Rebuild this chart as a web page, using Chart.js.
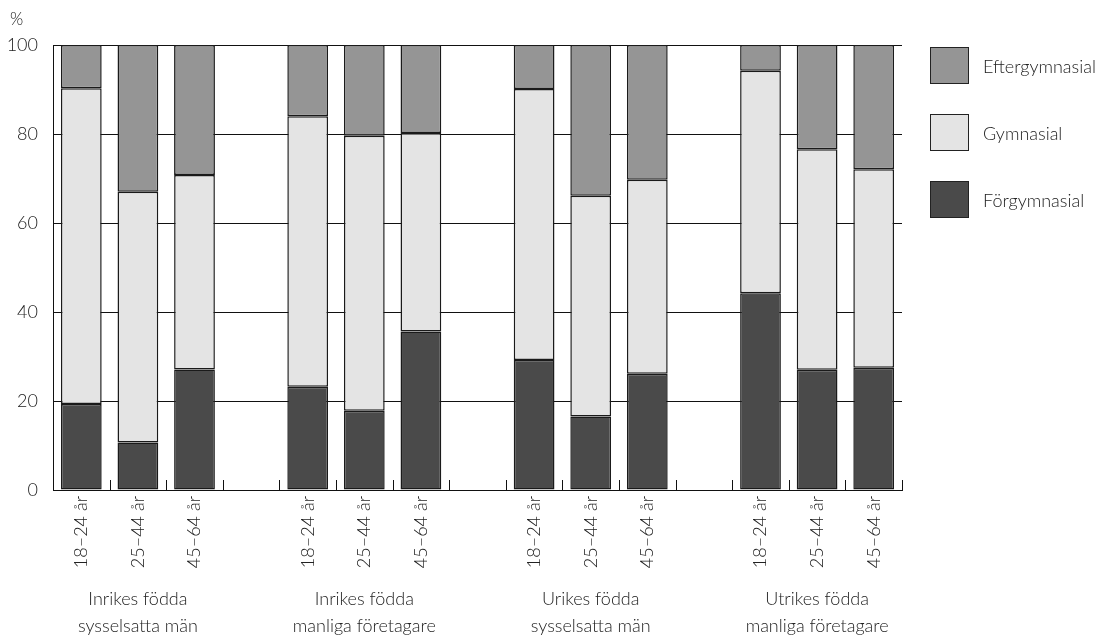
<!DOCTYPE html>
<html lang="sv">
<head>
<meta charset="utf-8">
<title>Utbildningsnivå</title>
<script src="https://cdn.jsdelivr.net/npm/chart.js@4.4.1/dist/chart.umd.min.js"></script>
<style>
  body { margin: 0; background: #fff; }
  #wrap { position: relative; width: 1103px; height: 635px; }
  #legend { position: absolute; left: 930px; top: 47px; font-family: Lato, "Open Sans", sans-serif; font-weight: 300; font-size: 18px; color: #222; }
  .item { display: flex; align-items: center; height: 37px; margin-bottom: 30px; }
  .box { width: 37px; height: 35px; border: 1.5px solid #222; margin-right: 14px; }
</style>
</head>
<body>
<div id="wrap">
  <canvas id="chart" width="1103" height="635"></canvas>
  <div id="legend"></div>
</div>
<script>
// Categories (empty strings are the gaps between groups)
const ageLabels = [
  "18–24 år", "25–44 år", "45–64 år", "",
  "18–24 år", "25–44 år", "45–64 år", "",
  "18–24 år", "25–44 år", "45–64 år", "",
  "18–24 år", "25–44 år", "45–64 år",
];

const groupLabels = [
  ["Inrikes födda", "sysselsatta män"],
  ["Inrikes födda", "manliga företagare"],
  ["Urikes födda", "sysselsatta män"],
  ["Utrikes födda", "manliga företagare"],
];

// Series values, percent
const forgymnasial = [19.3, 10.7, 27.1, null, 23.2, 17.8, 35.6, null, 29.2, 16.5, 26.1, null, 44.2, 27.0, 27.5];
const gymnasial = [71.0, 56.3, 43.7, null, 60.8, 61.8, 44.6, null, 60.9, 49.6, 43.6, null, 50.0, 49.6, 44.6];
const eftergymnasial = [9.7, 33.0, 29.2, null, 16.0, 20.4, 19.8, null, 9.9, 33.9, 30.3, null, 5.8, 23.4, 27.9];

const yTicks = [0, 20, 40, 60, 80, 100];

const FONT = "Lato, 'Open Sans', sans-serif";
const TEXT = "#222";

// Group labels under the x axis + small inward ticks at category boundaries
const extrasPlugin = {
  id: "extras",
  afterDraw(chart) {
    const ctx = chart.ctx;
    const x = chart.scales.x;
    const area = chart.chartArea;
    const step = (area.right - area.left) / ageLabels.length;

    ctx.save();
    ctx.strokeStyle = "#111";
    ctx.lineWidth = 1;
    ctx.beginPath();
    for (let i = 1; i <= ageLabels.length; i++) {
      const px = Math.round(x.getPixelForValue(i - 1) + step / 2) + 0.5;
      ctx.moveTo(px, area.bottom);
      ctx.lineTo(px, area.bottom - 10);
    }
    ctx.stroke();

    ctx.fillStyle = TEXT;
    ctx.font = "300 18px " + FONT;
    ctx.textAlign = "center";
    ctx.textBaseline = "middle";
    groupLabels.forEach((lines, g) => {
      const cx = x.getPixelForValue(g * 4 + 1);
      lines.forEach((t, j) => ctx.fillText(t, cx, 599 + j * 27));
    });

    ctx.textAlign = "left";
    ctx.font = "300 17px " + FONT;
    ctx.fillText("%", 10, 20);
    ctx.restore();
  },
};

const datasets = [
  { label: "Förgymnasial", data: forgymnasial, backgroundColor: "#4a4a4a" },
  { label: "Gymnasial", data: gymnasial, backgroundColor: "#e4e4e4" },
  { label: "Eftergymnasial", data: eftergymnasial, backgroundColor: "#959595" },
].map((d) => ({
  ...d,
  borderColor: "#1a1a1a",
  borderWidth: 1.5,
  borderSkipped: false,
  barPercentage: 0.72,
  categoryPercentage: 1,
}));

const chart = new Chart(document.getElementById("chart"), {
  type: "bar",
  data: { labels: ageLabels, datasets: datasets },
  options: {
    responsive: false,
    animation: false,
    layout: { padding: { top: 45, right: 201, left: 0, bottom: 0 } },
    plugins: {
      legend: { display: false },
      tooltip: { enabled: false },
    },
    scales: {
      x: {
        stacked: true,
        grid: { display: false, drawTicks: false },
        border: { color: "#111", width: 1 },
        ticks: {
          color: TEXT,
          font: { family: FONT, size: 18, weight: 300 },
          minRotation: 90,
          maxRotation: 90,
          padding: 6,
          autoSkip: false,
        },
        afterFit(scale) { scale.height = 145; },
      },
      y: {
        stacked: true,
        min: 0,
        max: 100,
        afterBuildTicks(scale) { scale.ticks = yTicks.map((v) => ({ value: v })); },
        grid: { color: "#111", lineWidth: 1, drawTicks: false },
        border: { color: "#111", width: 1 },
        ticks: {
          color: TEXT,
          font: { family: FONT, size: 18, weight: 300 },
          padding: 15,
        },
        afterFit(scale) { scale.width = 53; },
      },
    },
  },
  plugins: [extrasPlugin],
});

// Legend, top to bottom in reverse stacking order
const legend = document.getElementById("legend");
datasets.slice().reverse().forEach((d) => {
  const item = document.createElement("div");
  item.className = "item";
  item.innerHTML = `<div class="box" style="background:${d.backgroundColor}"></div><span>${d.label}</span>`;
  legend.appendChild(item);
});
</script>
</body>
</html>
